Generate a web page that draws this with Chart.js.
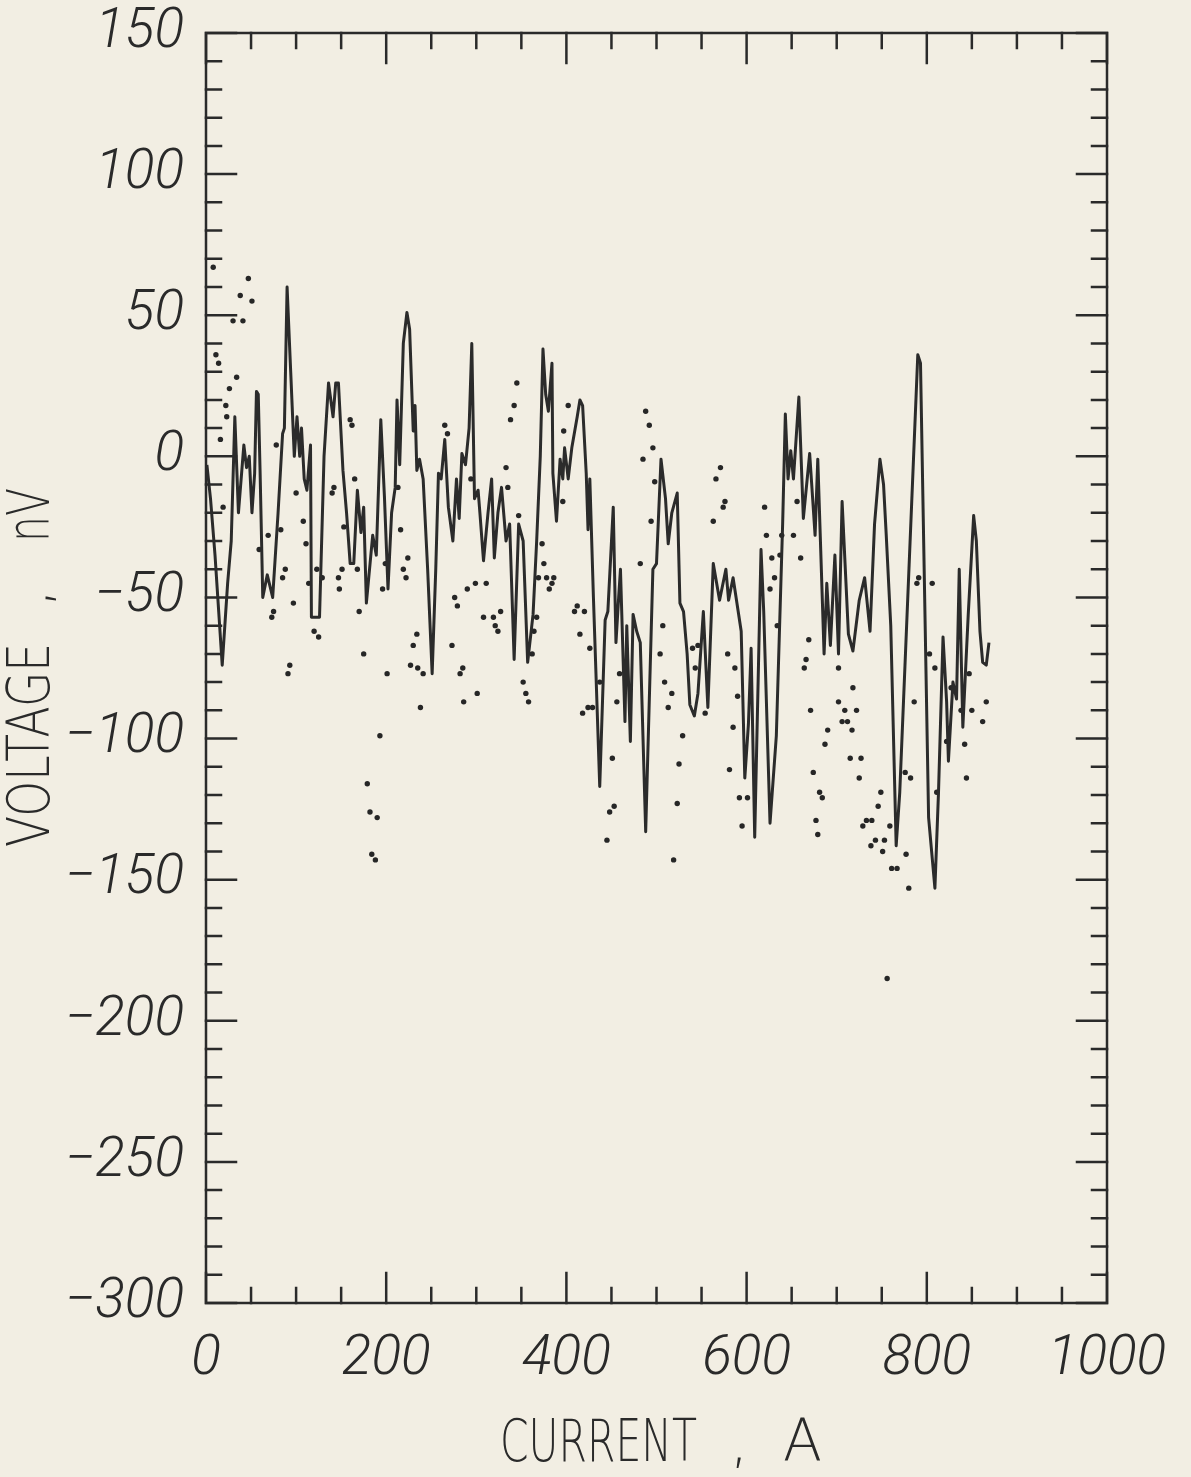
<!DOCTYPE html>
<html>
<head>
<meta charset="utf-8">
<script src="https://cdn.jsdelivr.net/npm/chart.js@4.4.1/dist/chart.umd.min.js"></script>
<style>
  html, body { margin: 0; padding: 0; background: #f2eee3; }
  #wrap { position: relative; width: 1191px; height: 1477px; }
</style>
</head>
<body>
<div id="wrap"><canvas id="chart"></canvas></div>
<script>
// trace (solid line)
const lineCurrent = [1,5,10,18,24,28,32,36,42,45,48,51,54,56,58,60,63,68,74,80,85,87,90,94,98,101,104,106,109,112,116,117,126,131,136,141,144,147,152,156,160,164,168,172,175,178,185,189,194,198,202,206,210,212,215,219,223,226,230,232,234,237,241,246,251,255,258,261,265,269,274,278,281,284,288,292,295,298,302,304,308,313,317,320,324,328,333,337,342,347,352,357,363,367,371,374,377,380,384,385,389,393,396,398,402,406,412,415,418,422,424,426,430,437,443,446,452,455,458,460,465,467,471,474,478,482,488,496,500,505,510,513,517,523,526,530,534,537,542,546,552,557,563,570,577,580,585,594,598,602,605,609,616,619,626,633,640,643,646,649,652,658,663,670,676,679,686,689,693,698,702,706,713,718,725,731,737,742,748,752,755,760,766,770,790,793,802,809,813,818,822,824,829,833,836,840,846,852,855,859,862,866,869];
const lineVoltage = [-3,-15,-35,-74,-45,-30,14,-20,4,-4,0,-20,-6,23,22,-5,-50,-42,-50,-20,8,10,60,30,0,14,0,10,-8,-12,4,-57,-57,0,26,14,26,26,-5,-20,-38,-38,-12,-27,-18,-52,-28,-35,13,-14,-47,-20,-11,20,-3,40,51,45,9,18,-5,-1,-8,-40,-77,-40,-6,-8,6,-18,-30,-8,-22,1,-3,10,40,-15,-12,-20,-37,-20,-8,-36,-20,-11,-30,-24,-72,-24,-30,-73,-56,-30,0,38,22,16,33,-6,-23,-1,-8,3,-8,3,14,20,18,-6,-26,-8,-50,-117,-58,-55,-18,-66,-50,-40,-94,-60,-101,-56,-62,-66,-133,-40,-38,-1,-15,-31,-20,-13,-52,-55,-70,-88,-92,-84,-55,-89,-38,-51,-40,-51,-43,-62,-114,-95,-68,-135,-33,-55,-130,-99,-24,15,-8,2,-8,21,-22,1,-28,-1,-70,-45,-67,-35,-70,-16,-63,-69,-51,-43,-62,-24,-1,-10,-28,-60,-138,-119,36,33,-128,-153,-119,-64,-87,-108,-80,-86,-40,-96,-56,-21,-30,-62,-73,-74,-66];

// scattered points
const dotCurrent = [8,47,38,51,30,41,11,14,34,26,22,23,16,78,19,160,162,165,142,140,100,108,111,69,83,88,85,59,153,147,151,148,168,123,114,129,97,75,73,120,125,170,175,199,196,216,224,219,222,213,93,91,201,234,230,227,235,241,238,193,179,182,190,184,188,345,342,338,402,397,396,265,268,294,333,335,347,373,375,369,378,386,384,381,311,299,290,276,279,327,308,319,321,324,273,285,282,301,286,412,409,420,415,426,367,364,362,352,355,358,437,456,418,424,429,488,492,496,485,498,494,482,507,504,509,517,513,529,525,523,519,451,453,448,445,459,571,566,576,574,563,620,622,639,652,656,628,637,660,631,626,634,540,546,543,579,587,590,585,581,592,601,595,554,669,666,664,671,690,687,674,681,684,677,679,702,718,702,709,722,706,712,717,715,727,725,749,746,733,739,729,759,743,753,738,751,761,767,777,780,776,782,786,789,791,806,803,809,811,827,822,842,838,850,844,866,862,847,756];
const dotVoltage = [67,63,57,55,48,48,36,33,28,24,18,14,6,4,-18,13,11,-8,-11,-13,-13,-23,-31,-28,-26,-40,-43,-33,-25,-43,-40,-47,-40,-40,-45,-43,-52,-55,-57,-62,-64,-55,-70,-38,-47,-26,-36,-40,-43,-11,-74,-77,-77,-63,-67,-74,-75,-77,-89,-99,-116,-126,-128,-141,-143,26,18,13,18,9,-16,11,8,-8,-4,-11,-21,-31,-38,-43,-43,-43,-45,-47,-45,-45,-47,-50,-53,-55,-57,-57,-60,-62,-67,-75,-77,-84,-87,-53,-55,-55,-63,-68,-57,-62,-70,-80,-84,-87,-80,-87,-91,-89,-89,16,11,3,-1,-9,-23,-38,-60,-70,-80,-84,-89,-99,-109,-123,-143,-107,-124,-126,-136,-77,-4,-8,-16,-18,-23,-18,-28,-28,-28,-16,-36,-35,-36,-43,-47,-60,-68,-67,-75,-70,-75,-85,-96,-111,-121,-121,-131,-91,-65,-72,-75,-90,-97,-102,-112,-119,-121,-129,-134,-75,-82,-87,-90,-90,-94,-94,-97,-107,-107,-114,-119,-124,-129,-129,-131,-131,-136,-136,-138,-140,-146,-146,-141,-153,-112,-114,-87,-45,-43,-45,-70,-75,-119,-82,-101,-102,-90,-90,-114,-87,-94,-77,-185];

// axes
const xTickLabels = ['0', '200', '400', '600', '800', '1000'];
const yTickLabels = ['150', '100', '50', '0', '\u221250', '\u2212100', '\u2212150', '\u2212200', '\u2212250', '\u2212300'];
const xTitle = ['CURRENT', ',', 'A'];
const yTitle = ['VOLTAGE', ',', 'nV'];

const INK = '#2a2a2a';
const tickFont = { family: 'Roboto', style: 'italic', weight: 300, size: 55, lineHeight: 1 };

// inward ticks on all four sides plus the frame and the axis titles
const frame = {
  id: 'frame',
  afterDraw(chart) {
    const ctx = chart.ctx, a = chart.chartArea;
    const xs = chart.scales.x, ys = chart.scales.y;
    ctx.save();
    ctx.strokeStyle = INK;
    ctx.lineWidth = 2.5;
    ctx.lineCap = 'square';
    ctx.strokeRect(a.left, a.top, a.right - a.left, a.bottom - a.top);
    ctx.beginPath();
    xs.ticks.forEach(function(t) {
      const p = xs.getPixelForValue(t.value);
      const len = t.value % 200 === 0 ? 30 : 15;
      ctx.moveTo(p, a.bottom); ctx.lineTo(p, a.bottom - len);
      ctx.moveTo(p, a.top); ctx.lineTo(p, a.top + len);
    });
    ys.ticks.forEach(function(t) {
      const p = ys.getPixelForValue(t.value);
      const len = t.value % 50 === 0 ? 30 : 15;
      ctx.moveTo(a.left, p); ctx.lineTo(a.left + len, p);
      ctx.moveTo(a.right, p); ctx.lineTo(a.right - len, p);
    });
    ctx.stroke();

    // narrow plotter-style lettering
    ctx.fillStyle = INK;
    ctx.font = '300 58px "DejaVu Sans"';
    ctx.textBaseline = 'middle';
    ctx.textAlign = 'left';
    function word(txt, x0, x1, cy) {
      const w = ctx.measureText(txt).width;
      ctx.save();
      ctx.translate(x0, cy);
      ctx.scale((x1 - x0) / w, 1);
      ctx.fillText(txt, 0, 0);
      ctx.restore();
    }
    word(xTitle[0], 500, 697, 1446);
    ctx.fillText(xTitle[1], 730, 1446);
    word(xTitle[2], 783, 822, 1446);

    ctx.save();
    ctx.translate(34, 0);
    ctx.rotate(-Math.PI / 2);
    // after rotation, x runs upward: x' = -pageY
    word(yTitle[0], -847, -643, 0);
    ctx.fillText(yTitle[1], -607, 0);
    word(yTitle[2], -542, -488, 0);
    ctx.restore();
    ctx.restore();
  }
};

const options = {
  type: 'scatter',
  data: {
    datasets: [{
      data: lineCurrent.map(function(c, i) { return { x: c, y: lineVoltage[i] }; }),
      showLine: true,
      borderColor: '#2b2b2b',
      borderWidth: 3,
      borderJoinStyle: 'round',
      tension: 0,
      pointRadius: 0
    }, {
      data: dotCurrent.map(function(c, i) { return { x: c, y: dotVoltage[i] }; }),
      showLine: false,
      pointRadius: 2.7,
      pointBorderWidth: 0,
      pointBackgroundColor: '#262626'
    }]
  },
  options: {
    animation: false,
    responsive: true,
    maintainAspectRatio: false,
    layout: { padding: { top: 33, right: 84, left: 0, bottom: 0 } },
    plugins: { legend: { display: false }, tooltip: { enabled: false } },
    scales: {
      x: {
        type: 'linear', min: 0, max: 1000,
        afterFit: function(s) { s.height = 174; s.paddingLeft = 0; s.paddingRight = 0; },
        border: { display: false },
        grid: { display: false, drawTicks: false },
        ticks: {
          stepSize: 50, autoSkip: false, maxRotation: 0, padding: 30,
          color: INK, font: tickFont,
          callback: function(v) { return v % 200 === 0 ? xTickLabels[v / 200] : ''; }
        }
      },
      y: {
        type: 'linear', min: -300, max: 150,
        afterFit: function(s) { s.width = 206; s.paddingTop = 0; s.paddingBottom = 0; },
        border: { display: false },
        grid: { display: false, drawTicks: false },
        ticks: {
          stepSize: 10, autoSkip: false, padding: 22,
          color: INK, font: tickFont,
          callback: function(v) { return v % 50 === 0 ? yTickLabels[(150 - v) / 50] : ''; }
        }
      }
    }
  },
  plugins: [frame]
};

new Chart(document.getElementById('chart'), options);
</script>
</body>
</html>
